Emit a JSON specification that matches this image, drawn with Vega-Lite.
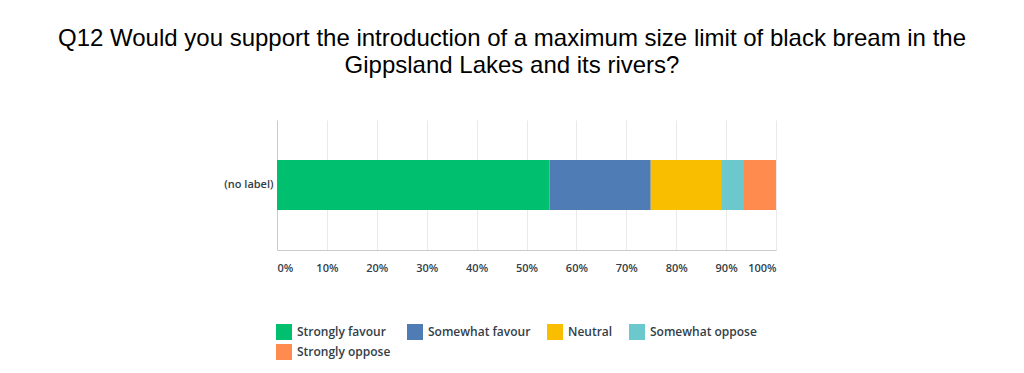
{
  "$schema": "https://vega.github.io/schema/vega-lite/v6.json",
  "width": 499,
  "height": 130,
  "autosize": "none",
  "padding": {"left": 277, "top": 120, "right": 248, "bottom": 123},
  "background": "white",
  "title": {
    "text": ["Q12 Would you support the introduction of a maximum size limit of black bream in the", "Gippsland Lakes and its rivers?"],
    "font": "Liberation Sans",
    "fontSize": 24,
    "fontWeight": "normal",
    "color": "#000000",
    "lineHeight": 27,
    "anchor": "middle",
    "frame": "group",
    "dx": -14.5,
    "offset": 42
  },
  "data": {
    "values": [
      {"question": "(no label)", "answer": "Strongly favour", "pct": 0.546, "rank": 1},
      {"question": "(no label)", "answer": "Somewhat favour", "pct": 0.203, "rank": 2},
      {"question": "(no label)", "answer": "Neutral", "pct": 0.141, "rank": 3},
      {"question": "(no label)", "answer": "Somewhat oppose", "pct": 0.044, "rank": 4},
      {"question": "(no label)", "answer": "Strongly oppose", "pct": 0.066, "rank": 5}
    ]
  },
  "mark": {"type": "bar"},
  "encoding": {
    "y": {
      "field": "question",
      "type": "nominal",
      "scale": {"paddingInner": 0, "paddingOuter": 0.8},
      "axis": {
        "title": null,
        "ticks": false,
        "domain": true,
        "domainColor": "#cccccc",
        "labelFont": "Open Sans",
        "labelFontSize": 11,
        "labelFontWeight": 600,
        "labelColor": "#333e48",
        "labelPadding": 4
      }
    },
    "x": {
      "field": "pct",
      "type": "quantitative",
      "stack": "zero",
      "scale": {"domain": [0, 1], "nice": false},
      "axis": {
        "title": null,
        "format": ".0%",
        "values": [0, 0.1, 0.2, 0.3, 0.4, 0.5, 0.6, 0.7, 0.8, 0.9, 1],
        "ticks": false,
        "grid": true,
        "gridColor": "#e9e9e9",
        "domainColor": "#cccccc",
        "labelFont": "Open Sans",
        "labelFontSize": 11,
        "labelFontWeight": 600,
        "labelColor": "#333e48",
        "labelPadding": 12,
        "labelFlush": true
      }
    },
    "color": {
      "field": "answer",
      "type": "nominal",
      "sort": null,
      "scale": {
        "domain": ["Strongly favour", "Somewhat favour", "Neutral", "Somewhat oppose", "Strongly oppose"],
        "range": ["#00bf6f", "#507cb6", "#f9be00", "#6bc8cd", "#ff8b4f"]
      },
      "legend": {
        "title": null,
        "orient": "none",
        "legendX": -1,
        "legendY": 204,
        "direction": "horizontal",
        "columns": 4,
        "gridAlign": "none",
        "symbolType": "square",
        "symbolSize": 256,
        "symbolStrokeWidth": 0,
        "symbolOpacity": 1,
        "labelFont": "Open Sans",
        "labelFontSize": 12,
        "labelFontWeight": 600,
        "labelColor": "#333e48",
        "labelOffset": 5,
        "columnPadding": 16,
        "rowPadding": 4
      }
    },
    "order": {"field": "rank", "type": "quantitative"}
  },
  "config": {"view": {"stroke": null}}
}
